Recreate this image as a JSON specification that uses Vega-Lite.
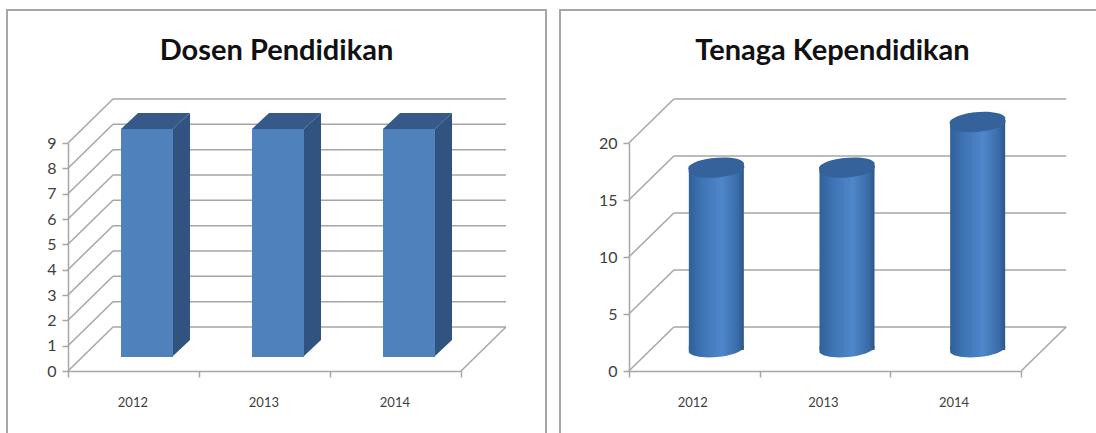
{
"$schema":"https://vega.github.io/schema/vega-lite/v6.json",
"background":"white",
"padding":{"left":6,"top":9,"right":0,"bottom":0},
"autosize":{"type":"pad"},
"spacing":12,
"config":{"view":{"stroke":"#a6a6a6","strokeWidth":2},
"title":{"font":"Lato","fontSize":29,"fontWeight":"bold","color":"#111111","anchor":"middle","offset":-56,"baseline":"middle"},
"axis":{"labelFont":"Lato","labelColor":"#404040","domainColor":"#a6a6a6","tickColor":"#a6a6a6","domainWidth":1.5,"tickWidth":1.5,"tickSize":6,"grid":false,"title":null}},
"datasets":{
"dosen":[{"tahun":"2012","nilai":9},{"tahun":"2013","nilai":9},{"tahun":"2014","nilai":9}],
"tenaga":[{"tahun":"2012","nilai":16},{"tahun":"2013","nilai":16},{"tahun":"2014","nilai":20}],
"ticksA":[{"t":0},{"t":1},{"t":2},{"t":3},{"t":4},{"t":5},{"t":6},{"t":7},{"t":8},{"t":9}],
"ticksB":[{"t":0},{"t":5},{"t":10},{"t":15},{"t":20}]
},
"hconcat":[
{"width":539,"height":425,"title":"Dosen Pendidikan",
"layer":[
{"data":{"name":"ticksA"},"mark":{"type":"rule","color":"#a6a6a6","strokeWidth":1.5,"xOffset":-20.5,"x2Offset":110.5,"yOffset":-44},
 "encoding":{"x":{"datum":"2012","type":"nominal"},"x2":{"datum":"2014"},"y":{"field":"t","type":"quantitative","title":null}}},
{"data":{"name":"ticksA"},"mark":{"type":"rule","color":"#a6a6a6","strokeWidth":1.5,"xOffset":-65.5,"x2Offset":-20.5,"y2Offset":-44},
 "encoding":{"x":{"datum":"2012","type":"nominal"},"x2":{"datum":"2012"},"y":{"field":"t","type":"quantitative","title":null},"y2":{"field":"t"}}},
{"data":{"name":"ticksA"},"transform":[{"filter":"datum.t==0"}],"mark":{"type":"rule","color":"#a6a6a6","strokeWidth":1.5,"xOffset":65.5,"x2Offset":110.5,"y2Offset":-44},
 "encoding":{"x":{"datum":"2014","type":"nominal"},"x2":{"datum":"2014"},"y":{"field":"t","type":"quantitative","title":null},"y2":{"field":"t"}}},
{"data":{"name":"dosen"},"mark":{"type":"point","filled":true,"opacity":1,"size":4,"color":"#30547f","shape":"M26,0 L43,-16 L43,211 L26,227 Z","xOffset":13.5,"yOffset":-14},
 "encoding":{"x":{"field":"tahun","type":"nominal"},"y":{"field":"nilai","type":"quantitative","title":null}}},
{"data":{"name":"dosen"},"mark":{"type":"point","filled":true,"opacity":1,"size":4,"color":"#36598a","shape":"M-26,0 L-9,-16 L43,-16 L26,0 Z","xOffset":13.5,"yOffset":-14},
 "encoding":{"x":{"field":"tahun","type":"nominal"},"y":{"field":"nilai","type":"quantitative","title":null}}},
{"data":{"name":"dosen"},"mark":{"type":"bar","size":52,"color":"#4f81bd","xOffset":13.5,"yOffset":-14,"y2Offset":-14},
 "encoding":{
 "x":{"field":"tahun","type":"nominal","scale":{"domain":["2012","2013","2014"],"range":[61,454],"paddingInner":0,"paddingOuter":0},
  "axis":{"offset":-64,"labelAngle":0,"labelFontSize":13,"labelPadding":25,"labelOffset":14,"tickBand":"extent","title":null}},
 "y":{"field":"nilai","type":"quantitative","scale":{"domain":[0,9],"range":[361,133],"nice":false},
  "axis":{"offset":-61,"values":[0,1,2,3,4,5,6,7,8,9],"labelFontSize":16,"labelPadding":6,"title":null}}}}
]},
{"width":545,"height":425,"title":"Tenaga Kependidikan",
"layer":[
{"data":{"name":"ticksB"},"mark":{"type":"rule","color":"#a6a6a6","strokeWidth":1.5,"xOffset":-20.5,"x2Offset":110.5,"yOffset":-44},
 "encoding":{"x":{"datum":"2012","type":"nominal"},"x2":{"datum":"2014"},"y":{"field":"t","type":"quantitative","title":null}}},
{"data":{"name":"ticksB"},"mark":{"type":"rule","color":"#a6a6a6","strokeWidth":1.5,"xOffset":-65.5,"x2Offset":-20.5,"y2Offset":-44},
 "encoding":{"x":{"datum":"2012","type":"nominal"},"x2":{"datum":"2012"},"y":{"field":"t","type":"quantitative","title":null},"y2":{"field":"t"}}},
{"data":{"name":"ticksB"},"transform":[{"filter":"datum.t==0"}],"mark":{"type":"rule","color":"#a6a6a6","strokeWidth":1.5,"xOffset":65.5,"x2Offset":110.5,"y2Offset":-44},
 "encoding":{"x":{"datum":"2014","type":"nominal"},"x2":{"datum":"2014"},"y":{"field":"t","type":"quantitative","title":null},"y2":{"field":"t"}}},
{"data":{"name":"tenaga"},"mark":{"type":"point","filled":true,"opacity":1,"size":4,"shape":"M-27.5,-4 L-27.5,2.5 A28,8.5 -5 0 0 27.5,-2.5 L27.5,-4 Z","xOffset":22,"yOffset":-21,
  "color":{"gradient":"linear","x1":0,"x2":1,"y1":0,"y2":0,"stops":[{"offset":0,"color":"#2f6099"},{"offset":0.25,"color":"#3f74b4"},{"offset":0.6,"color":"#4f87cb"},{"offset":0.9,"color":"#386aa6"},{"offset":1,"color":"#2c5688"}]}},
 "encoding":{"x":{"field":"tahun","type":"nominal"},"y":{"datum":0}}},
{"data":{"name":"tenaga"},"mark":{"type":"bar","size":55,"xOffset":22,"yOffset":-21,"y2Offset":-24,
  "color":{"gradient":"linear","x1":0,"x2":1,"y1":0,"y2":0,"stops":[{"offset":0,"color":"#2f6099"},{"offset":0.25,"color":"#3f74b4"},{"offset":0.6,"color":"#4f87cb"},{"offset":0.9,"color":"#386aa6"},{"offset":1,"color":"#2c5688"}]}},
 "encoding":{
 "x":{"field":"tahun","type":"nominal","scale":{"domain":["2012","2013","2014"],"range":[69,461],"paddingInner":0,"paddingOuter":0},
  "axis":{"offset":-64,"labelAngle":0,"labelFontSize":13,"labelPadding":25,"labelOffset":13,"tickBand":"extent","title":null}},
 "y":{"field":"nilai","type":"quantitative","scale":{"domain":[0,20],"range":[361,133],"nice":false},
  "axis":{"offset":-69,"values":[0,5,10,15,20],"labelFontSize":16,"labelPadding":6,"title":null}}}},
{"data":{"name":"tenaga"},"mark":{"type":"point","filled":true,"opacity":1,"size":4,"color":"#36629b","shape":"M-27.5,2.5 A28,8.5 -5 1 1 27.5,-2.5 A28,8.5 -5 1 1 -27.5,2.5 Z","xOffset":22,"yOffset":-21},
 "encoding":{"x":{"field":"tahun","type":"nominal"},"y":{"field":"nilai","type":"quantitative","title":null}}}
]}
]}
